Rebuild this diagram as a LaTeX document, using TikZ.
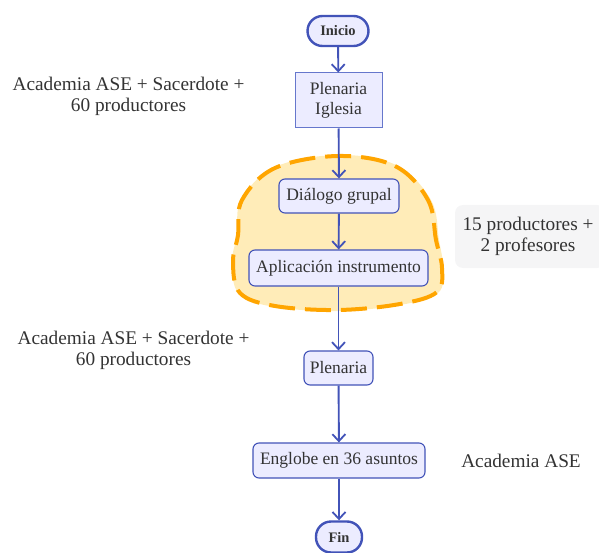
\documentclass[tikz,border=0pt]{standalone}
\usepackage{fontspec}
\setmainfont{Liberation Serif}
\usetikzlibrary{arrows.meta}
\definecolor{nodefill}{HTML}{ECECFF}
\definecolor{nodeline}{HTML}{4253B8}
\definecolor{boxline}{HTML}{6677CC}
\definecolor{txt}{HTML}{333333}
\definecolor{blobfill}{HTML}{FFECB8}
\definecolor{blobline}{HTML}{FFA500}
\definecolor{notefill}{HTML}{F5F5F6}
\tikzset{
  base/.style={draw=nodeline, fill=nodefill, text=txt, inner sep=0pt, align=center,
    font=\fontsize{17.5}{20}\selectfont, line width=1.1pt},
  procbox/.style={base, rounded corners=6pt},
  squarebox/.style={base, draw=boxline, line width=1pt},
  terminal/.style={base, line width=2.4pt, font=\fontsize{14.5}{17}\selectfont\bfseries},
  label/.style={text=txt, align=center, inner sep=0pt, font=\fontsize{19.3}{21}\selectfont},
  flow/.style={draw=nodeline, line width=1.9pt, -{Straight Barb[length=7pt,width=13pt,line width=1.8pt]}},
}
\begin{document}
\begin{tikzpicture}[x=1pt,y=-1pt]
\useasboundingbox (0,0) rectangle (599,553);

% highlighted group: soft fill, then dashed outline
\fill[blobfill]
  plot[smooth cycle, tension=0.6] coordinates {
    (338,155) (396,165) (431,200) (439,240) (443,268) (438,293) (400,305)
    (338,311) (275,307) (239,294) (232,262) (237,235) (241,200) (275,167)};
\draw[draw=blobline, line width=4pt, dash pattern=on 26pt off 10pt]
  plot[smooth cycle, tension=0.6] coordinates {
    (338,156) (395,166) (428,200) (436,240) (442,268) (437,292) (400,304)
    (338,310) (275,306) (240,293) (233,262) (238,235) (242,200) (275,168)};

% note box
\fill[notefill, rounded corners=8pt] (455,205) rectangle (605,268);

\node[terminal, minimum width=61pt, minimum height=30pt, rounded corners=15pt] (inicio) at (338,31) {Inicio};
\node[squarebox, minimum width=87pt, minimum height=55pt] (pleniglesia) at (338.5,100.5) {Plenaria\\Iglesia};
\node[procbox, minimum width=120pt, minimum height=34pt] (dialogo) at (339,196) {Diálogo grupal};
\node[procbox, minimum width=179pt, minimum height=36pt] (aplicacion) at (338.5,268) {Aplicación instrumento};
\node[procbox, minimum width=69pt, minimum height=34pt] (plenaria) at (338.5,368) {Plenaria};
\node[procbox, minimum width=172pt, minimum height=35pt] (englobe) at (339,460.5) {Englobe en 36 asuntos};
\node[terminal, minimum width=46pt, minimum height=31pt, rounded corners=15pt] (fin) at (339,537) {Fin};

\node[label] (lab1) at (128.5,96) {Academia ASE + Sacerdote +\\60 productores};
\node[label] (lab2) at (133.5,350) {Academia ASE + Sacerdote +\\60 productores};
\node[label] (lab3) at (528,236) {15 productores +\\2 profesores};
\node[label] (lab4) at (521,461) {Academia ASE};

\draw[flow] (inicio) -- (pleniglesia);
\draw[flow] (pleniglesia) -- (dialogo);
\draw[flow] (dialogo) -- (aplicacion);
\draw[flow] (aplicacion) -- (plenaria);
\draw[flow] (plenaria) -- (englobe);
\draw[flow] (englobe) -- (fin);
\end{tikzpicture}
\end{document}
